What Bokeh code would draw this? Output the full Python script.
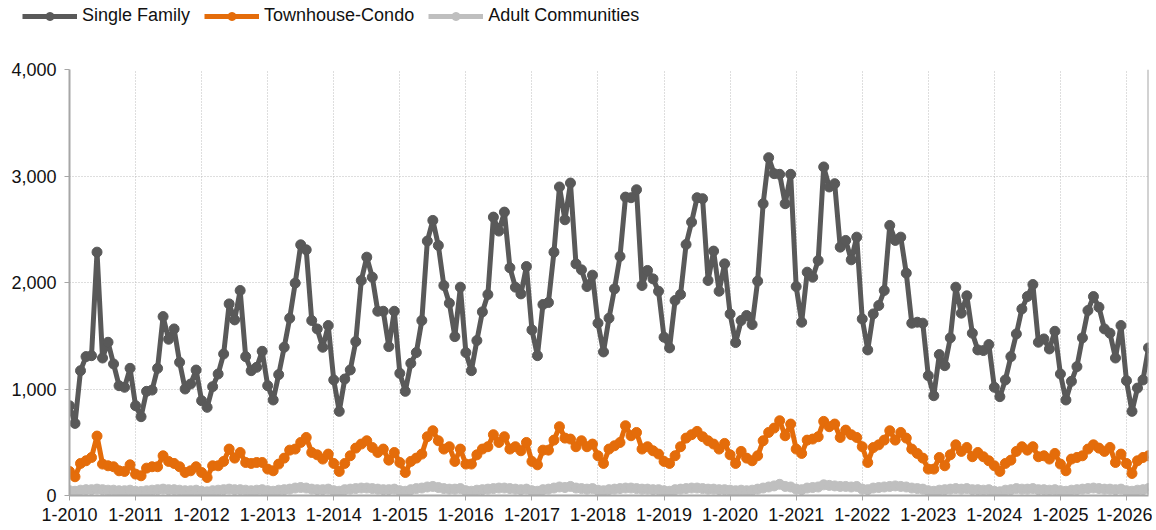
from bokeh.plotting import figure
from bokeh.layouts import column, row
from bokeh.models import (ColumnDataSource, Range1d, FixedTicker, Legend, LegendItem,
                          Span, NumeralTickFormatter)
from bokeh.embed import file_html
from bokeh.resources import INLINE

# ---- data (monthly, Jan 2010 .. May 2026) ----
single_family = [
    843, 677, 1172, 1304, 1313, 2285, 1291, 1439, 1235, 1031, 1016, 1194,   # 2010
    843, 740, 978, 990, 1194, 1680, 1467, 1564, 1251, 1000, 1047, 1178,     # 2011
    890, 828, 1022, 1141, 1329, 1799, 1649, 1925, 1304, 1172, 1204, 1354,   # 2012
    1031, 897, 1135, 1392, 1665, 1994, 2354, 2307, 1643, 1564, 1392, 1596,  # 2013
    1085, 790, 1094, 1179, 1445, 2019, 2238, 2050, 1730, 1730, 1398, 1730,  # 2014
    1147, 978, 1241, 1342, 1643, 2389, 2583, 2348, 1972, 1806, 1492, 1956,  # 2015
    1342, 1172, 1455, 1724, 1887, 2614, 2483, 2661, 2138, 1956, 1893, 2150, # 2016
    1555, 1313, 1793, 1812, 2285, 2897, 2589, 2934, 2175, 2119, 1962, 2069, # 2017
    1618, 1348, 1665, 1940, 2245, 2802, 2796, 2871, 1972, 2113, 2034, 1918, # 2018
    1486, 1386, 1831, 1887, 2357, 2567, 2796, 2787, 2019, 2295, 1918, 2175, # 2019
    1705, 1436, 1643, 1690, 1605, 2013, 2740, 3172, 3022, 3016, 2740, 3016, # 2020
    1962, 1627, 2097, 2050, 2207, 3085, 2897, 2928, 2332, 2395, 2213, 2426, # 2021
    1658, 1367, 1705, 1784, 1925, 2536, 2395, 2426, 2088, 1618, 1627, 1618, # 2022
    1125, 937, 1323, 1219, 1480, 1956, 1712, 1875, 1524, 1367, 1361, 1417,  # 2023
    1016, 928, 1085, 1304, 1517, 1752, 1868, 1981, 1439, 1470, 1376, 1542,  # 2024
    1141, 897, 1072, 1210, 1480, 1737, 1868, 1768, 1564, 1524, 1291, 1596,  # 2025
    1078, 790, 1009, 1085, 1386,                                            # 2026
]
townhouse_condo = [
    226, 176, 301, 326, 357, 558, 295, 279, 270, 232, 226, 288,
    201, 185, 257, 270, 270, 373, 320, 301, 270, 216, 232, 270,
    216, 169, 279, 279, 320, 436, 351, 404, 310, 301, 310, 310,
    248, 232, 295, 351, 426, 436, 498, 545, 404, 382, 342, 389,
    301, 226, 301, 373, 445, 483, 514, 451, 404, 436, 332, 404,
    310, 216, 320, 351, 389, 552, 608, 514, 436, 458, 320, 436,
    295, 295, 382, 436, 458, 571, 498, 552, 436, 458, 420, 498,
    320, 288, 426, 426, 520, 646, 539, 530, 458, 514, 458, 483,
    373, 301, 436, 467, 498, 655, 561, 592, 436, 458, 420, 389,
    320, 301, 373, 458, 539, 571, 602, 552, 514, 483, 436, 489,
    382, 301, 414, 351, 326, 373, 514, 592, 633, 702, 561, 671,
    436, 395, 520, 530, 552, 696, 646, 671, 545, 614, 571, 545,
    458, 310, 450, 476, 520, 608, 520, 592, 539, 436, 395, 351,
    248, 248, 357, 279, 382, 476, 414, 451, 364, 404, 364, 326,
    279, 226, 301, 332, 414, 458, 426, 458, 364, 373, 342, 395,
    295, 232, 342, 357, 373, 436, 476, 445, 414, 451, 310, 389,
    301, 207, 326, 357, 373,
]
adult_communities = [
    45, 40, 50, 55, 55, 60, 55, 50, 50, 45, 45, 50,
    40, 38, 45, 50, 55, 60, 55, 55, 50, 45, 45, 50,
    40, 35, 45, 50, 55, 60, 55, 55, 50, 45, 50, 55,
    45, 40, 50, 55, 60, 70, 75, 70, 60, 55, 55, 60,
    45, 40, 55, 60, 65, 70, 70, 65, 60, 55, 55, 60,
    45, 40, 55, 65, 70, 80, 85, 75, 65, 60, 60, 65,
    45, 40, 50, 55, 60, 65, 70, 70, 65, 60, 55, 60,
    45, 40, 55, 60, 70, 80, 75, 85, 70, 65, 60, 65,
    50, 45, 55, 60, 65, 70, 70, 65, 60, 60, 55, 55,
    45, 40, 55, 60, 65, 70, 70, 65, 60, 60, 55, 55,
    50, 45, 50, 45, 50, 60, 70, 80, 90, 105, 85, 80,
    60, 55, 70, 75, 80, 100, 95, 90, 85, 85, 80, 85,
    60, 55, 70, 75, 80, 85, 90, 85, 80, 70, 65, 60,
    45, 40, 50, 55, 60, 65, 60, 65, 55, 55, 50, 55,
    40, 35, 50, 55, 65, 60, 60, 65, 55, 55, 50, 55,
    45, 40, 50, 55, 60, 65, 70, 65, 60, 60, 55, 60,
    45, 40, 50, 55, 65,
]
tick_years = list(range(2010, 2027))
tick_labels = ["1-%d" % y for y in tick_years]
y_ticks = [0, 1000, 2000, 3000, 4000]
series_names = ["Single Family", "Townhouse-Condo", "Adult Communities"]
series_colors = ["#595959", "#E46C0A", "#BFBFBF"]

n = len(single_family)
months = list(range(n))
src = ColumnDataSource(dict(m=months, sf=single_family, tc=townhouse_condo,
                            ac=adult_communities))

FONT = "Liberation Sans"
GRID = "#BDBDBD"
AXIS = "#A6A6A6"
W = 1152
LEG_H = 40
MAIN_H = 488
LEFT = 69

# ---- main chart ----
p = figure(width=W, height=MAIN_H, output_backend="svg", toolbar_location=None,
           x_range=Range1d(0, n - 1), y_range=Range1d(0, 4000),
           min_border_left=LEFT, min_border_right=4, min_border_top=69 - LEG_H,
           min_border_bottom=LEG_H + MAIN_H - 495)
p.outline_line_color = None
p.background_fill_color = "white"

x_tick_pos = [12 * i for i in range(len(tick_years))]
p.xaxis.ticker = FixedTicker(ticks=x_tick_pos)
p.xaxis.major_label_overrides = {pos: lab for pos, lab in zip(x_tick_pos, tick_labels)}
p.yaxis.ticker = FixedTicker(ticks=y_ticks)
p.yaxis.formatter = NumeralTickFormatter(format="0,0")

for ax in (p.xaxis, p.yaxis):
    ax.axis_line_color = AXIS
    ax.axis_line_width = 2
    ax.major_tick_line_color = AXIS
    ax.major_tick_out = 5
    ax.major_tick_in = 0
    ax.minor_tick_line_color = None
    ax.major_label_text_font = FONT
    ax.major_label_text_font_size = "18px"
    ax.major_label_text_color = "#111111"
p.xaxis.major_label_standoff = 7
p.yaxis.major_label_standoff = 8

p.xgrid.ticker = FixedTicker(ticks=x_tick_pos)
p.ygrid.ticker = FixedTicker(ticks=y_ticks)
for g in (p.xgrid, p.ygrid):
    g.grid_line_color = GRID
    g.grid_line_dash = "1 2"
    g.grid_line_width = 1

p.add_layout(Span(location=n - 1, dimension="height", line_color=AXIS, line_width=2))

cols = ["sf", "tc", "ac"]
for col, color in reversed(list(zip(cols, series_colors))):
    p.line("m", col, source=src, line_color=color, line_width=5)
    p.scatter("m", col, source=src, marker="circle", size=10,
              fill_color=color, line_color=color)

# ---- legend strip on top ----
lg = figure(width=W, height=LEG_H, output_backend="svg", toolbar_location=None,
            x_range=Range1d(0, 1), y_range=Range1d(0, 1), min_border=0)
lg.axis.visible = False
lg.grid.visible = False
lg.outline_line_color = None
# renderers placed off-range: only their legend samples are seen
offsrc = ColumnDataSource(dict(x=[-5, -4], y=[-5, -5]))
items = []
for name, color in zip(series_names, series_colors):
    l = lg.line("x", "y", source=offsrc, line_color=color, line_width=5)
    s = lg.scatter("x", "y", source=offsrc, marker="circle", size=10,
                   fill_color=color, line_color=color)
    items.append(LegendItem(label=name, renderers=[l, s], index=0))
legend = Legend(items=items, orientation="horizontal", location=(22, LEG_H - 26),
                background_fill_alpha=0, border_line_alpha=0,
                label_text_font=FONT, label_text_font_size="18px",
                label_text_color="#111111",
                glyph_width=55, glyph_height=20, label_standoff=5, spacing=14,
                padding=0, margin=0, label_height=20)
lg.add_layout(legend, "center")

layout = column(row(lg, spacing=0), p, spacing=0)
open("out.html", "w").write(file_html(layout, INLINE))
